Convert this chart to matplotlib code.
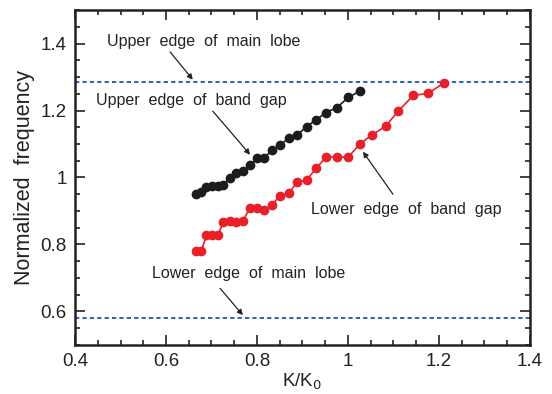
import matplotlib
matplotlib.use("Agg")
import matplotlib.pyplot as plt
from matplotlib.ticker import MultipleLocator

plt.rcParams['font.family'] = ['Liberation Sans', 'DejaVu Sans']

k_upper = [0.666, 0.677, 0.689, 0.702, 0.714, 0.726, 0.741, 0.755, 0.769, 0.785, 0.801,
           0.816, 0.832, 0.851, 0.870, 0.889, 0.909, 0.930, 0.952, 0.975, 1.001, 1.026]
f_upper = [0.951, 0.956, 0.971, 0.974, 0.976, 0.979, 0.999, 1.014, 1.020, 1.038, 1.058,
           1.058, 1.081, 1.097, 1.118, 1.127, 1.152, 1.172, 1.194, 1.208, 1.239, 1.258]

k_lower = [0.666, 0.678, 0.689, 0.702, 0.714, 0.726, 0.741, 0.755, 0.769, 0.785, 0.801,
           0.816, 0.832, 0.851, 0.870, 0.889, 0.909, 0.930, 0.952, 0.975, 1.001, 1.026,
           1.053, 1.083, 1.111, 1.144, 1.176, 1.212]
f_lower = [0.782, 0.782, 0.827, 0.827, 0.827, 0.867, 0.869, 0.867, 0.871, 0.910, 0.908,
           0.903, 0.918, 0.945, 0.953, 0.987, 0.992, 1.027, 1.061, 1.061, 1.061, 1.100,
           1.127, 1.153, 1.199, 1.245, 1.251, 1.283]

main_lobe_upper = 1.285
main_lobe_lower = 0.582

fig = plt.figure(figsize=(5.52, 3.94), dpi=100)
ax = fig.add_axes([0.1359, 0.1244, 0.824, 0.8502])

blue = '#2a63b8'
ax.axhline(main_lobe_upper, color=blue, lw=1.4, ls=(0, (2.2, 1.6)))
ax.axhline(main_lobe_lower, color=blue, lw=1.4, ls=(0, (2.2, 1.6)))

ax.plot(k_upper, f_upper, '-o', color='#1c1c1c', lw=1.2, ms=6)
ax.plot(k_lower, f_lower, '-o', color='#e8202a', lw=1.2, ms=6)

ax.set_xlim(0.4, 1.4)
ax.set_ylim(0.5, 1.5)
ax.set_xticks([0.4, 0.6, 0.8, 1.0, 1.2, 1.4])
ax.set_xticklabels(['0.4', '0.6', '0.8', '1', '1.2', '1.4'])
ax.set_yticks([0.6, 0.8, 1.0, 1.2, 1.4])
ax.set_yticklabels(['0.6', '0.8', '1', '1.2', '1.4'])
ax.xaxis.set_minor_locator(MultipleLocator(0.05))
ax.yaxis.set_minor_locator(MultipleLocator(0.05))
ax.tick_params(which='both', direction='in', top=True, right=True, width=1.2, color='#222222')
ax.tick_params(which='major', length=7, labelsize=13.5, labelcolor='#222222', pad=6)
ax.tick_params(which='minor', length=3.5)
for s in ax.spines.values():
    s.set_linewidth(1.8)
    s.set_color('#222222')

ax.set_xlabel('K/K$_0$', fontsize=13.5, color='#222222', labelpad=1)
ax.set_ylabel('Normalized  frequency', fontsize=15.5, color='#222222', labelpad=4)

tfs = 11.5
tc = '#222222'
ax.text(0.470, 1.405, 'Upper  edge  of  main  lobe', fontsize=tfs, color=tc, va='center', ha='left')
ax.text(0.446, 1.230, 'Upper  edge  of  band  gap', fontsize=tfs, color=tc, va='center', ha='left')
ax.text(0.569, 0.713, 'Lower  edge  of  main  lobe', fontsize=tfs, color=tc, va='center', ha='left')
ax.text(0.919, 0.905, 'Lower  edge  of  band  gap', fontsize=tfs, color=tc, va='center', ha='left')

aprops = dict(arrowstyle='-|>', color='#222222', lw=0.9, mutation_scale=8, shrinkA=0, shrinkB=0)
ax.annotate('', xy=(0.659, 1.292), xytext=(0.609, 1.375), arrowprops=aprops)
ax.annotate('', xy=(0.785, 1.068), xytext=(0.703, 1.198), arrowprops=aprops)
ax.annotate('', xy=(0.769, 0.589), xytext=(0.719, 0.669), arrowprops=aprops)
ax.annotate('', xy=(1.033, 1.077), xytext=(1.099, 0.950), arrowprops=aprops)

fig.savefig('out.png', dpi=100)
